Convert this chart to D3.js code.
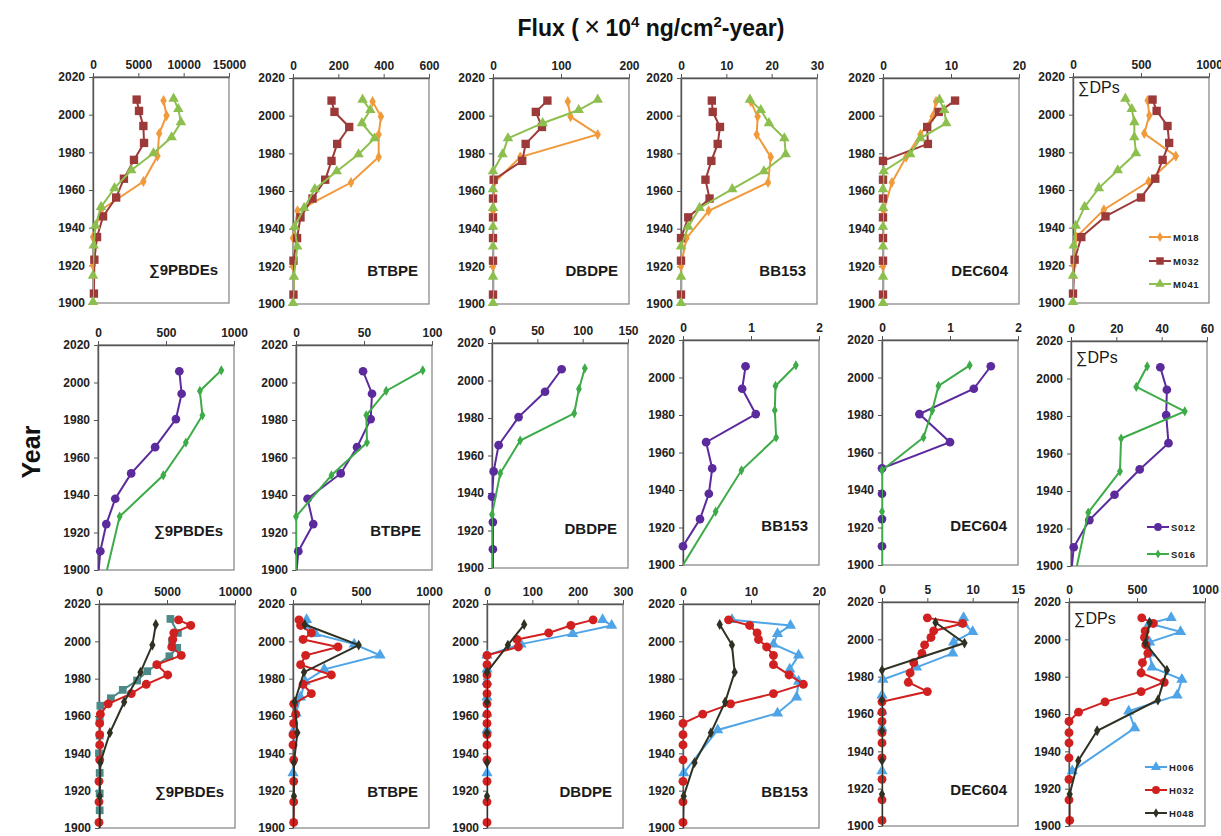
<!DOCTYPE html>
<html>
<head>
<meta charset="utf-8">
<script src="https://cdn.jsdelivr.net/npm/d3@7"></script>
<style>
  body { margin: 0; background: #fff; }
  text { font-family: "Liberation Sans", Arial, sans-serif; }
</style>
</head>
<body>
<svg id="chart" width="1221" height="836"></svg>
<script>
// panel names and x axis ranges, one row per core group
var panelNames = ['\u22119PBDEs', 'BTBPE', 'DBDPE', 'BB153', 'DEC604', '\u2211DPs'];
var rowMax  = [[15000, 600, 200, 30, 20, 1000], [1000, 100, 150, 2, 2, 60], [10000, 1000, 300, 20, 15, 1000]];
var rowStep = [[5000, 200, 100, 10, 10, 500], [500, 50, 50, 1, 1, 20], [5000, 500, 100, 10, 5, 500]];
var yearTicks = [1900, 1920, 1940, 1960, 1980, 2000, 2020];

// row 1 : M018, M032, M041   (values per panel, same order as panelNames)
var m018Years = [2007.5, 1999.5, 1990, 1978, 1964.5, 1949.5, 1935, 1920];
var m018 = [
  [7780, 8110, 7300, 7110, 5560, 900, 0, 0],
  [351, 388, 378, 378, 256, 20, 0, 0],
  [110, 114, 154, 40, 2, 0, 0, 0],
  [15.4, 16.9, 16.7, 19.8, 19.2, 6.1, 1.2, 0],
  [7.8, 7.3, 5.5, 3.4, 1.3, 0.1, 0, 0],
  [549, 561, 524, 756, 556, 227, 24, 5]
];
var m032Years = [2008, 2002, 1994, 1985, 1976, 1966, 1956, 1946, 1935, 1923, 1905];
var m032 = [
  [4815, 5075, 5555, 5630, 4520, 3410, 2555, 1110, 445, 150, 100],
  [170, 183, 248, 195, 170, 142, 86, 33, 18, 2, 2],
  [80, 63, 72, 48, 43, 1, 0, 0, 0, 0, 0],
  [6.8, 7.0, 8.6, 8.1, 6.7, 5.4, 6.3, 1.6, 0, 0, 0],
  [10.6, 8.2, 6.5, 6.6, 0, 0, 0, 0, 0, 0, 0],
  [585, 615, 695, 707, 659, 605, 500, 239, 61, 12, 0]
];
var m041Years = [2008.5, 2003, 1996, 1988, 1979.5, 1970.5, 1961, 1951, 1941, 1930.5, 1914.5, 1900.5];
var m041 = [
  [8890, 9410, 9700, 8670, 6670, 4220, 2370, 890, 260, 75, 0, 0],
  [307, 341, 304, 360, 289, 193, 96, 49, 7, 19, 4, 0],
  [154, 126, 73, 22, 14, 0, 0, 0, 0, 0, 0, 0],
  [15.2, 17.6, 19.4, 22.8, 23.1, 18.3, 11.3, 4.1, 1.6, 0, 0, 0],
  [8.3, 9.0, 9.3, 5.5, 4.0, 0.1, 0, 0, 0, 0, 0, 0],
  [385, 432, 451, 451, 463, 329, 190, 85, 20, 5, 0, 0]
];

// row 2 : S012, S016  (last value = where the line leaves the plot at 1900, no marker)
var s012Years = [2006, 1994, 1980.5, 1965.5, 1951.5, 1938, 1924.5, 1910, 1900];
var s012 = [
  [598, 615, 573, 420, 244, 127, 61, 17, 5],
  [49.3, 55.9, 54.9, 44.9, 32.9, 8.5, 12.7, 1.7, 0.5],
  [76.8, 58.5, 29.3, 7.3, 1.8, 0, 1, 1, 1],
  [0.92, 0.87, 1.07, 0.34, 0.43, 0.38, 0.25, 0, 0],
  [1.6, 1.35, 0.55, 1.0, 0, 0, 0, 0, 0],
  [39.4, 42.3, 42, 43, 30.3, 19.2, 8.1, 1.2, 0.4]
];
var s016Years = [2006.5, 1995.5, 1982.5, 1968, 1950.5, 1928.5, 1900];
var s016 = [
  [907, 749, 768, 646, 480, 159, 66],
  [93.2, 66.3, 51.7, 52.2, 26.1, 0, 0],
  [102.4, 95.9, 90.7, 31.1, 9.1, 0, 0],
  [1.66, 1.36, 1.35, 1.37, 0.86, 0.48, 0],
  [1.29, 0.83, 0.74, 0.61, 0, 0, 0],
  [33.6, 28.8, 50.2, 22.1, 21.6, 7.6, 2.6]
];

// row 3 : H006, H032, H048
var h006Years = [2011.5, 2008.5, 2004, 1998.5, 1992.5, 1985, 1978.5, 1970, 1961.5, 1952.5, 1929.5];
var h006 = [
  null,
  [100, 95, 165, 450, 640, 230, 90, 55, 22, 8, 0],
  [255, 275, 189, 75, 0, 0, 0, 0, 0, 0, 0],
  [7.2, 15.8, 13.9, 13.3, 17.0, 15.7, 17.0, 16.7, 13.9, 5.1, 0.1],
  [9.0, 9.0, 10.0, 7.9, 7.8, 3.8, 0.1, 0, 0, 0, 0],
  [751, 590, 820, 593, 593, 610, 830, 795, 439, 483, 24]
];
// H006 in the PBDE panel is drawn with teal squares on its own depths
var h006PbdeYears = [2012, 2004.5, 2000, 1996.5, 1992, 1984, 1979, 1974, 1969.5, 1965.5, 1957.5, 1949.5, 1940, 1929.5, 1918.5, 1909.5];
var h006Pbde = [5250, 5800, 5375, 5750, 5175, 3550, 2800, 1750, 875, 100, 50, 50, 0, 50, 50, 50];
var h032Years = [2011.5, 2008.5, 2004.5, 2001, 1997, 1992.5, 1987.5, 1982, 1977, 1972, 1966.5, 1961, 1956, 1950, 1944.5, 1936.5, 1925, 1914, 1903];
var h032 = [
  [5850, 6750, 5500, 5425, 5350, 6050, 4250, 5050, 3475, 2375, 675, 100, 50, 50, 50, 50, 0, 0, 0],
  [44, 56, 135, 74, 331, 93, 56, 282, 74, 135, 5, 20, 5, 0, 0, 5, 5, 5, 5],
  [234, 185, 136, 66, 69, 0, 0, 0, 0, 0, 0, 0, 0, 0, 0, 0, 0, 0, 0],
  [6.7, 9.8, 10.9, 11.1, 12.3, 13.3, 13.3, 15.6, 17.7, 13.3, 7.0, 2.9, 0, 0, 0, 0, 0, 0, 0],
  [5.0, 8.9, 5.7, 5.4, 4.7, 4.4, 3.5, 3.1, 2.9, 5.0, 0, 0, 0, 0, 0, 0, 0, 0, 0],
  [535, 620, 560, 555, 565, 580, 540, 530, 700, 530, 265, 70, 0, 0, 0, 0, 0, 0, 5]
];
var h048Years = [2009, 1998, 1983.5, 1967.5, 1951, 1935, 1917, 1900];
var h048 = [
  [4175, 3925, 3050, 1850, 800, 100, 50, 50],
  [86, 483, 81, 12, 32, 7, 7, 0],
  [82, 46, 0, 0, 0, 0, 0, 0],
  [5.4, 7.2, 7.6, 6.2, 4.1, 1.7, 0.1, 0],
  [5.9, 9.1, 0, 0, 0, 0, 0, 0],
  [593, 561, 720, 654, 207, 68, 5, 0]
];

// series look per row
var rows = [
  [
    { name: 'M018', years: m018Years, vals: m018, color: '#f09a3c', shape: d3.symbolDiamond, size: 36 },
    { name: 'M032', years: m032Years, vals: m032, color: '#9c3a3a', shape: d3.symbolSquare, size: 70 },
    { name: 'M041', years: m041Years, vals: m041, color: '#8dbf4e', shape: d3.symbolTriangle, size: 48 }
  ],
  [
    { name: 'S012', years: s012Years, vals: s012, color: '#5b2a9c', shape: d3.symbolCircle, size: 60, tail: true },
    { name: 'S016', years: s016Years, vals: s016, color: '#3dab47', shape: d3.symbolDiamond, size: 30, tail: true }
  ],
  [
    { name: 'H006', years: h006Years, vals: h006, color: '#4ea4e6', shape: d3.symbolTriangle, size: 55 },
    { name: 'H032', years: h032Years, vals: h032, color: '#d0201f', shape: d3.symbolCircle, size: 62 },
    { name: 'H048', years: h048Years, vals: h048, color: '#2f3122', shape: d3.symbolDiamond, size: 34, tail: true }
  ]
];
var tealSeries = { years: h006PbdeYears, v: h006Pbde, color: '#4b8a88', shape: d3.symbolSquare, size: 60 };

// layout of the 18 boxes
var boxLeft = [[93, 293, 493, 681, 883, 1073], [98, 296, 492, 683, 882, 1071], [99, 293, 487, 683, 882, 1069]];
var boxTop  = [[77, 78, 78, 78, 78, 77], [345, 345, 343, 340, 340, 341], [604, 604, 604, 604, 602, 602]];
var boxW = 136;
var boxH = [226, 225, 224];
var labelUp = [28, 34, 31];
var dpLabelDown = [16, 22, 22];
var legendY = [[237, 261, 284], [527, 554], [767, 790, 813]];

var svg = d3.select('#chart');

// title
var title = svg.append('text')
  .attr('x', 651).attr('y', 36)
  .attr('text-anchor', 'middle')
  .attr('font-size', 23).attr('font-weight', 'bold').attr('fill', '#111');
title.append('tspan').text('Flux (');
title.append('tspan').attr('font-weight', 'normal').attr('font-size', 27).text('\u2009\u00d7\u2009');
title.append('tspan').text('10');
title.append('tspan').attr('font-size', 15).attr('dy', -9).text('4');
title.append('tspan').attr('dy', 9).text(' ng/cm');
title.append('tspan').attr('font-size', 15).attr('dy', -9).text('2');
title.append('tspan').attr('dy', 9).text('-year)');

svg.append('text')
  .attr('transform', 'translate(40,452) rotate(-90)')
  .attr('text-anchor', 'middle')
  .attr('font-size', 25).attr('font-weight', 'bold').attr('fill', '#111')
  .text('Year');

var drawMarks = function(g, xs, ys, years, v, s, tail) {
  var line = d3.line()
    .x(function(d, i) { return xs(v[i]); })
    .y(function(d) { return ys(d); });
  g.append('path')
    .attr('d', line(years))
    .attr('fill', 'none')
    .attr('stroke', s.color)
    .attr('stroke-width', 2)
    .attr('clip-path', g.attr('data-clip'));
  var n = tail ? years.length - 1 : years.length;
  g.selectAll(null)
    .data(years.slice(0, n))
    .enter()
    .append('path')
      .attr('d', d3.symbol().type(s.shape).size(s.size))
      .attr('transform', function(d, i) { return 'translate(' + xs(v[i]) + ',' + ys(d) + ')'; })
      .attr('fill', s.color);
};

rows.forEach(function(seriesList, r) {
  panelNames.forEach(function(name, c) {
    var left = boxLeft[r][c], top = boxTop[r][c], h = boxH[r];
    var xs = d3.scaleLinear().domain([0, rowMax[r][c]]).range([left, left + boxW]);
    var ys = d3.scaleLinear().domain([1900, 2020]).range([top + h, top]);
    var clipId = 'clip' + r + '_' + c;
    svg.append('clipPath').attr('id', clipId)
      .append('rect').attr('x', left).attr('y', top).attr('width', boxW).attr('height', h);

    svg.append('rect')
      .attr('x', left).attr('y', top).attr('width', boxW).attr('height', h)
      .attr('fill', 'none').attr('stroke', '#8a8a8a').attr('stroke-width', 1.3);

    var xAxis = svg.append('g')
      .attr('transform', 'translate(0,' + top + ')')
      .call(d3.axisTop(xs)
        .tickValues(d3.range(0, rowMax[r][c] + rowStep[r][c] / 2, rowStep[r][c]))
        .tickSize(4).tickSizeOuter(0).tickPadding(4)
        .tickFormat(d3.format('d')));
    var yAxis = svg.append('g')
      .attr('transform', 'translate(' + left + ',0)')
      .call(d3.axisLeft(ys).tickValues(yearTicks)
        .tickSize(4).tickSizeOuter(0).tickPadding(4)
        .tickFormat(d3.format('d')));
    [xAxis, yAxis].forEach(function(ax) {
      ax.select('.domain').attr('stroke', '#555').attr('stroke-width', 1.4);
      ax.selectAll('.tick line').attr('stroke', '#555');
      ax.selectAll('.tick text')
        .attr('font-size', 12).attr('font-weight', 'bold')
        .attr('fill', '#222')
        .style('font-family', '"Liberation Sans", Arial, sans-serif');
    });

    var g = svg.append('g').attr('data-clip', 'url(#' + clipId + ')');
    if (r === 2 && c === 0) {
      drawMarks(g, xs, ys, tealSeries.years, tealSeries.v, tealSeries, false);
    }
    seriesList.forEach(function(s) {
      if (!s.vals[c]) return;
      drawMarks(g, xs, ys, s.years, s.vals[c], s, s.tail);
    });

    if (c < 5) {
      svg.append('text')
        .attr('x', left + boxW - 11).attr('y', top + h - labelUp[r])
        .attr('text-anchor', 'end')
        .attr('font-size', 15).attr('font-weight', 'bold').attr('fill', '#1a1a1a')
        .text(name);
    } else {
      svg.append('text')
        .attr('x', left + 5).attr('y', top + dpLabelDown[r])
        .attr('font-size', 16).attr('fill', '#1a1a1a')
        .text(name);
      // legend
      seriesList.forEach(function(s, i) {
        var ly = legendY[r][i], lx = left + 76;
        svg.append('line')
          .attr('x1', lx).attr('x2', lx + 22).attr('y1', ly).attr('y2', ly)
          .attr('stroke', s.color).attr('stroke-width', 2);
        svg.append('path')
          .attr('d', d3.symbol().type(s.shape).size(s.size * 0.8))
          .attr('transform', 'translate(' + (lx + 11) + ',' + ly + ')')
          .attr('fill', s.color);
        svg.append('text')
          .attr('x', lx + 24).attr('y', ly + 3.5)
          .attr('font-size', 9.5).attr('font-weight', 'bold').attr('fill', '#222')
          .attr('letter-spacing', 0.6)
          .text(s.name);
      });
    }
  });
});
</script>
</body>
</html>
